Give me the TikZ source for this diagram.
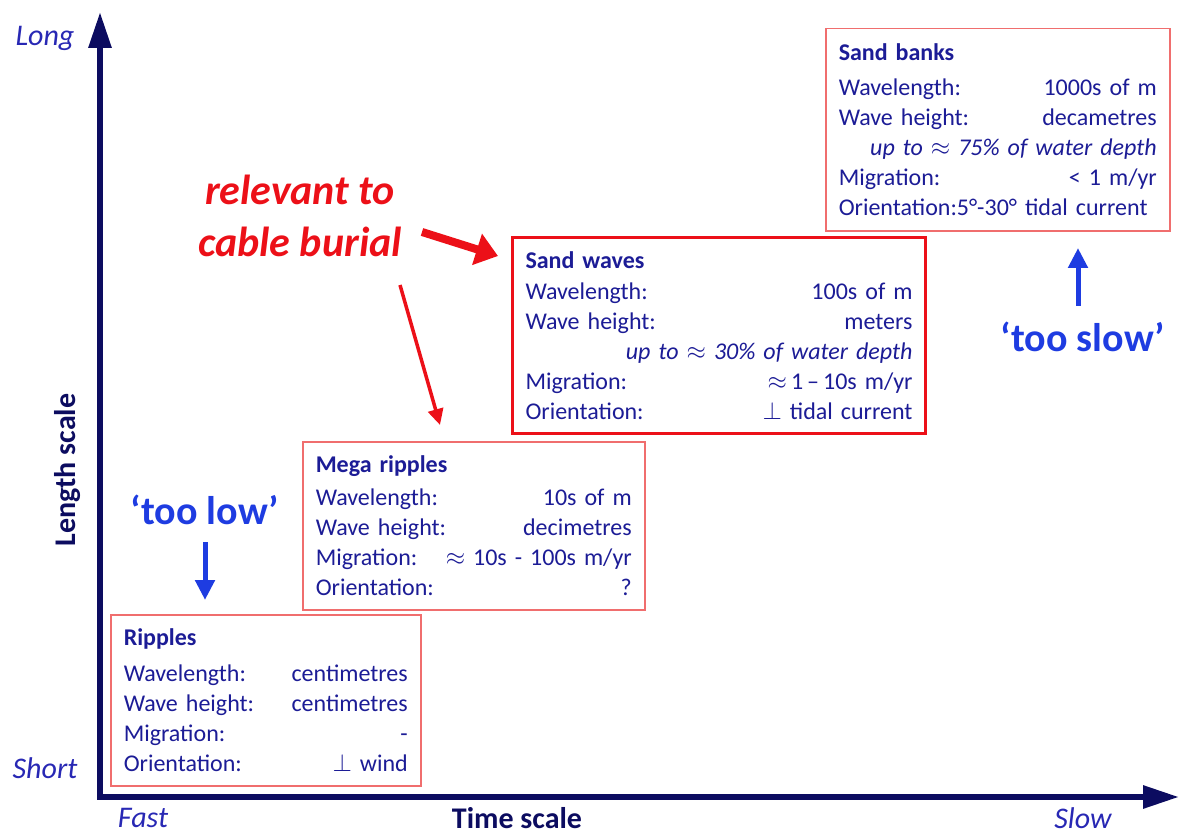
\documentclass[tikz,border=0pt]{standalone}
\usepackage{fontspec}
\setmainfont{Carlito}
\usetikzlibrary{arrows.meta,positioning,calc}

\definecolor{axisnavy}{RGB}{12,12,96}
\definecolor{textnavy}{RGB}{28,28,150}
\definecolor{labelblue}{RGB}{40,40,180}
\definecolor{brightblue}{RGB}{30,60,225}
\definecolor{lightred}{RGB}{240,110,110}
\definecolor{strongred}{RGB}{236,16,24}

\begin{document}
\begin{tikzpicture}[x=1pt,y=-1pt,
  infobox/.style={draw=lightred, line width=1.5pt, fill=white, anchor=north west,
    align=left, text=textnavy, inner xsep=13pt, inner ysep=14pt,
    font=\fontsize{24}{30}\selectfont},
  axis/.style={axisnavy, line width=6pt, line cap=rect, -{Triangle[length=36pt,width=22pt]}},
  endlabel/.style={labelblue, font=\fontsize{30}{36}\selectfont\itshape},
  axistitle/.style={axisnavy, font=\fontsize{30}{36}\selectfont\bfseries},
  redtext/.style={strongred, align=center, font=\fontsize{42}{52}\selectfont\bfseries\itshape},
  bluetext/.style={brightblue, font=\fontsize{40}{48}\selectfont\bfseries},
  bluearrow/.style={brightblue, line width=5pt, -{Triangle[length=20pt,width=19pt]}},
  redarrow/.style={strongred, -{Triangle[length=#1]}},
]

\useasboundingbox (0,0) rectangle (1181,834);

% Axes
\coordinate (origin) at (100,797);
\coordinate (ytop) at (100,12);
\coordinate (xend) at (1179,797);
\draw[axis] (origin) -- (ytop);
\draw[axis] (origin) -- (xend);

% Axis labels
\node[endlabel] (long) at (45,38) {Long};
\node[endlabel] (short) at (45,768) {Short};
\node[endlabel] (fast) at (143,818) {Fast};
\node[endlabel] (slow) at (1083,818) {Slow};
\node[axistitle] (timescale) at (517,818) {Time scale};
\node[axistitle, rotate=90] (lengthscale) at (68,470) {Length scale};

% Bedform boxes
\node[infobox, inner ysep=15pt, text width=318pt] (banks) at (825,28)
{\textbf{Sand banks}\\[5pt]
Wavelength:\hfill 1000s of m\\
Wave height:\hfill decametres\\
\hspace*{\fill}\textit{up to $\approx$ 75\% of water depth}\\
Migration:\hfill < 1 m/yr\\
Orientation:5°-30° tidal current};

\node[infobox, draw=strongred, line width=3pt, text width=387pt] (waves) at (511,236)
{\textbf{Sand waves}\\[1pt]
Wavelength:\hfill 100s of m\\
Wave height:\hfill meters\\
\hspace*{\fill}\textit{up to $\approx$ 30\% of water depth}\\
Migration:\hfill $\approx$\,1\,–\,10s m/yr\\
Orientation:\hfill $\perp$ tidal current};

\node[infobox, text width=316pt] (mega) at (302,441)
{\textbf{Mega ripples}\\[3pt]
Wavelength:\hfill 10s of m\\
Wave height:\hfill decimetres\\
Migration:\hfill $\approx$ 10s - 100s m/yr\\
Orientation:\hfill ?};

\node[infobox, text width=284pt] (ripples) at (110,614)
{\textbf{Ripples}\\[6pt]
Wavelength:\hfill centimetres\\
Wave height:\hfill centimetres\\
Migration:\hfill -\\
Orientation:\hfill $\perp$ wind};

% Relevance annotation
\node[redtext] (relevant) at (300,216) {relevant to\\cable burial};
\coordinate (thickstart) at (422,232);
\coordinate (thinstart) at (400,285);
\draw[redarrow={22pt}, line width=8pt] (thickstart) -- ($(waves.north west)+(-13,20)$);
\draw[redarrow={16pt}, line width=3.5pt] (thinstart) -- ($(mega.north west)+(138,-16)$);

% Too low / too slow
\node[bluetext] (toolow) at (205,510) {‘too low’};
\coordinate (lowstart) at (205,542);
\draw[bluearrow] (lowstart) -- ($(ripples.north west)+(95,-14)$);

\node[bluetext] (tooslow) at (1083,337) {‘too slow’};
\coordinate (slowstart) at (1078,306);
\coordinate (slowtip) at (1078,248);
\draw[bluearrow] (slowstart) -- (slowtip);

\end{tikzpicture}
\end{document}
